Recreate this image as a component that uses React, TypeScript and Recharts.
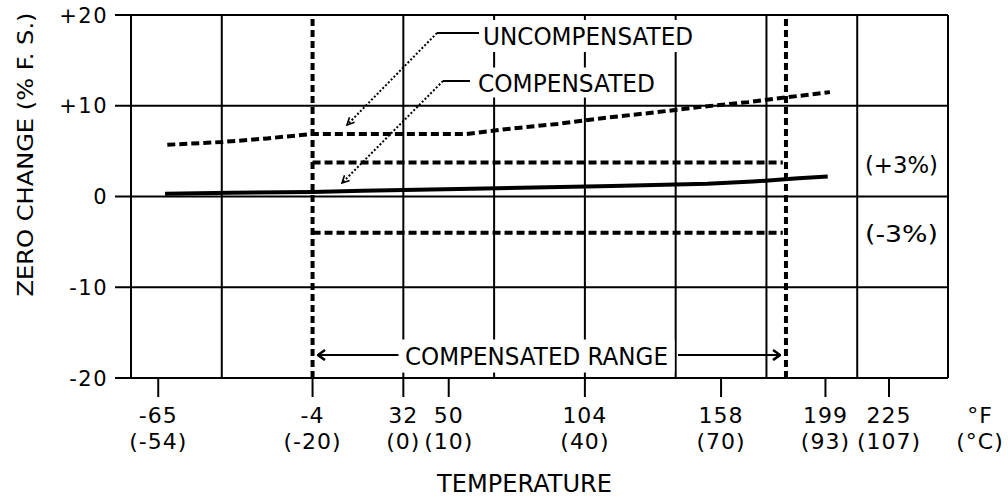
import React from "react";
import {
  LineChart,
  Line,
  XAxis,
  YAxis,
  CartesianGrid,
  ReferenceLine,
  ReferenceDot,
  Label,
} from "recharts";

const FONT = "'DejaVu Sans', sans-serif";
const INK = "#000";

// x axis runs in °C, labels show °F over (°C)
const tickC = [-54, -20, 0, 10, 40, 70, 93, 107];
const tickF = ["-65", "-4", "32", "50", "104", "158", "199", "225"];
const gridC = [-60, -40, 0, 20, 40, 60, 80, 100, 120];
const yTicks = [-20, -10, 0, 10, 20];
const yLabels = ["-20", "-10", "0", "+10", "+20"];

// zero change, % of full scale
const uncompT = [-52, -40, -30, -20, 14, 24, 34, 45, 56, 66, 76, 84, 94];
const uncompV = [5.7, 6.0, 6.4, 6.9, 6.9, 7.5, 8.0, 8.7, 9.3, 9.9, 10.4, 10.9, 11.5];
const compT = [-52.5, -38, -20, -9, 18, 46, 67, 77, 87, 93.5];
const compV = [0.3, 0.42, 0.5, 0.62, 0.88, 1.15, 1.4, 1.65, 2.0, 2.2];

const rangeC = [-20, 84.3];
const bandV = [3.75, -4];
const bandEnd = 83.6;

const uncompData = uncompT.map((t, i) => ({ t, v: uncompV[i] }));
const compData = compT.map((t, i) => ({ t, v: compV[i] }));

// annotation text, centre in data units
const notes = [
  { id: "unc", t: 40.7, v: 17.69, text: "UNCOMPENSATED", size: 25, len: 210, bw: 216, bh: 32 },
  { id: "comp", t: 35.95, v: 12.56, text: "COMPENSATED", size: 25, len: 177, bw: 182, bh: 30 },
  { id: "range", t: 29.34, v: -17.58, text: "COMPENSATED RANGE", size: 25, len: 263, bw: 276, bh: 33 },
  { id: "plus", t: 109.75, v: 3.47, text: "(+3%)", size: 23, len: 73, bw: 0, bh: 0 },
  { id: "minus", t: 109.75, v: -4.13, text: "(-3%)", size: 23, len: 73, bw: 0, bh: 0 },
];

const leaders = [
  { id: "unc-h", from: [7.42, 18.02], to: [16.67, 18.02], dash: undefined, arrow: "" },
  { id: "unc-d", from: [7.42, 18.02], to: [-12.41, 7.88], dash: "2 2", arrow: "url(#tipSmall)" },
  { id: "comp-h", from: [8.74, 12.73], to: [14.69, 12.73], dash: undefined, arrow: "" },
  { id: "comp-d", from: [8.74, 12.73], to: [-13.51, 1.49], dash: "2 2", arrow: "url(#tipSmall)" },
  { id: "rng-l", from: [-0.29, -17.47], to: [-18.8, -17.47], dash: undefined, arrow: "url(#tipBig)" },
  { id: "rng-r", from: [60.51, -17.47], to: [82.99, -17.47], dash: undefined, arrow: "url(#tipBig)" },
];

function center(vb: any) {
  return {
    cx: (vb?.x ?? 0) + (vb?.width ?? 0) / 2,
    cy: (vb?.y ?? 0) + (vb?.height ?? 0) / 2,
  };
}

function NoteText(props: any) {
  const { cx, cy } = center(props.viewBox);
  const { text, size, len, bw, bh } = props;
  return (
    <g>
      {bw > 0 && (
        <rect x={cx - bw / 2} y={cy - bh / 2} width={bw} height={bh} fill="#fff" />
      )}
      <text
        x={cx}
        y={cy + size * 0.365}
        textAnchor="middle"
        fontFamily={FONT}
        fontSize={size}
        fill={INK}
        textLength={len}
        lengthAdjust="spacingAndGlyphs"
      >
        {text}
      </text>
    </g>
  );
}

function XTick(props: any) {
  const { x, y, payload } = props;
  const i = tickC.indexOf(payload.value);
  const style = { fontFamily: FONT, fontSize: 22, fill: INK, letterSpacing: 1 };
  return (
    <g>
      <text x={x} y={y + 26} textAnchor="middle" {...style}>
        {tickF[i]}
      </text>
      <text x={x} y={y + 52} textAnchor="middle" {...style}>
        ({payload.value})
      </text>
    </g>
  );
}

function YTick(props: any) {
  const { x, y, payload } = props;
  const i = yTicks.indexOf(payload.value);
  return (
    <text
      x={x}
      y={y}
      dy="0.36em"
      textAnchor="end"
      fontFamily={FONT}
      fontSize={21}
      fill={INK}
      letterSpacing={1.5}
    >
      {yLabels[i]}
    </text>
  );
}

function YTitle(props: any) {
  const vb = props.viewBox ?? {};
  const bx = (vb.x ?? 0) + 33;
  const cy = (vb.y ?? 0) + (vb.height ?? 0) / 2 - 42;
  return (
    <text
      x={bx}
      y={cy}
      transform={`rotate(-90 ${bx} ${cy})`}
      textAnchor="middle"
      fontFamily={FONT}
      fontSize={22}
      fill={INK}
      textLength={284}
      lengthAdjust="spacingAndGlyphs"
    >
      ZERO CHANGE (% F. S.)
    </text>
  );
}

function XTitle(props: any) {
  const vb = props.viewBox ?? {};
  const x = (vb.x ?? 0) + (vb.width ?? 0) / 2 - 15;
  const y = (vb.y ?? 0) + 114;
  return (
    <text
      x={x}
      y={y}
      textAnchor="middle"
      fontFamily={FONT}
      fontSize={25}
      fill={INK}
      textLength={175}
      lengthAdjust="spacingAndGlyphs"
    >
      TEMPERATURE
    </text>
  );
}

function XUnits(props: any) {
  const vb = props.viewBox ?? {};
  const x = (vb.x ?? 0) + (vb.width ?? 0) + 32;
  const y = (vb.y ?? 0) + 19;
  const style = { fontFamily: FONT, fontSize: 22, fill: INK, letterSpacing: 1 };
  return (
    <g>
      <text x={x} y={y + 26} textAnchor="middle" {...style}>
        °F
      </text>
      <text x={x} y={y + 52} textAnchor="middle" {...style}>
        (°C)
      </text>
    </g>
  );
}

export default function App() {
  return (
    <div style={{ position: "absolute", left: 0, top: 0, background: "#fff" }}>
      <LineChart width={1008} height={498} margin={{ top: 15, right: 60, bottom: 0, left: 0 }}>
        <defs>
          <marker
            id="tipSmall"
            viewBox="0 0 10 10"
            refX={9}
            refY={5}
            markerWidth={9}
            markerHeight={9}
            markerUnits="userSpaceOnUse"
            orient="auto"
          >
            <path d="M1,1 L9,5 L1,9" fill="none" stroke={INK} strokeWidth={1.8} />
          </marker>
          <marker
            id="tipBig"
            viewBox="0 0 10 12"
            refX={9}
            refY={6}
            markerWidth={10}
            markerHeight={12}
            markerUnits="userSpaceOnUse"
            orient="auto"
          >
            <path d="M2,1 L9,6 L2,11" fill="none" stroke={INK} strokeWidth={2.6} />
          </marker>
        </defs>

        <CartesianGrid vertical={false} stroke={INK} strokeWidth={2} strokeDasharray="" />
        <XAxis
          type="number"
          dataKey="t"
          domain={[-60, 120]}
          ticks={tickC}
          interval={0}
          allowDataOverflow
          height={120}
          tickSize={19}
          tickMargin={0}
          tick={<XTick />}
          tickLine={{ stroke: INK, strokeWidth: 2 }}
          axisLine={{ stroke: INK, strokeWidth: 2 }}
        >
          <Label content={<XTitle />} />
          <Label content={<XUnits />} />
        </XAxis>
        <YAxis
          type="number"
          domain={[-20, 20]}
          ticks={yTicks}
          interval={0}
          width={131}
          tickSize={16}
          tickMargin={7}
          tick={<YTick />}
          tickLine={{ stroke: INK, strokeWidth: 2 }}
          axisLine={{ stroke: INK, strokeWidth: 2 }}
        >
          <Label content={<YTitle />} />
        </YAxis>

        {gridC.map((c) => (
          <ReferenceLine key={`g${c}`} x={c} stroke={INK} strokeWidth={2} ifOverflow="visible" />
        ))}

        {rangeC.map((c) => (
          <ReferenceLine
            key={`r${c}`}
            x={c}
            stroke={INK}
            strokeWidth={4}
            strokeDasharray="7 4"
            ifOverflow="visible"
          />
        ))}

        {bandV.map((v) => (
          <ReferenceLine
            key={`b${v}`}
            segment={[
              { x: rangeC[0], y: v },
              { x: bandEnd, y: v },
            ]}
            stroke={INK}
            strokeWidth={4}
            strokeDasharray="8 4"
            ifOverflow="visible"
          />
        ))}

        <Line
          data={uncompData}
          dataKey="v"
          type="linear"
          stroke={INK}
          strokeWidth={4}
          strokeDasharray="8 4"
          dot={false}
          isAnimationActive={false}
        />
        <Line
          data={compData}
          dataKey="v"
          type="linear"
          stroke={INK}
          strokeWidth={4}
          dot={false}
          isAnimationActive={false}
        />

        {leaders.map((l) => (
          <ReferenceLine
            key={l.id}
            segment={[
              { x: l.from[0], y: l.from[1] },
              { x: l.to[0], y: l.to[1] },
            ]}
            stroke={INK}
            strokeWidth={2}
            strokeDasharray={l.dash}
            markerEnd={l.arrow || undefined}
            ifOverflow="visible"
          />
        ))}

        {notes.map((n) => (
          <ReferenceDot
            key={n.id}
            x={n.t}
            y={n.v}
            r={1}
            fill="none"
            stroke="none"
            ifOverflow="visible"
            label={<NoteText text={n.text} size={n.size} len={n.len} bw={n.bw} bh={n.bh} />}
          />
        ))}
      </LineChart>
    </div>
  );
}
